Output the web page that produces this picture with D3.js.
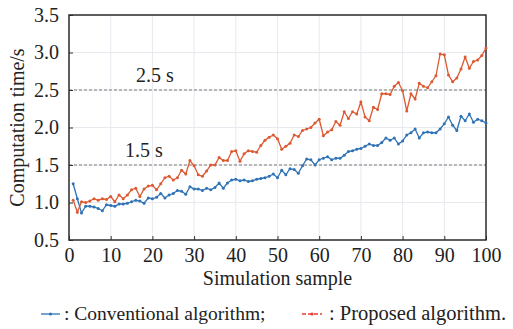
<!DOCTYPE html>
<html>
<head>
<meta charset="utf-8">
<script src="https://cdn.jsdelivr.net/npm/d3@7"></script>
<style>
  body { margin: 0; background: #fff; }
  svg text { font-family: "Liberation Serif", "Times New Roman", "DejaVu Serif", serif; fill: #222; }
</style>
</head>
<body>
<svg id="chart" width="513" height="329" font-family="Liberation Serif, serif"></svg>
<script>
// sample numbers 1..100
var samples = d3.range(1, 101);

// conventional algorithm, computation time (s)
var conventional = [
  1.25, 1.05, 0.86, 0.95, 0.95, 0.94, 0.92, 0.89, 0.97, 0.96,
  0.95, 0.98, 0.98, 0.99, 1.01, 1.03, 1.02, 0.99, 1.06, 1.05,
  1.07, 1.12, 1.06, 1.10, 1.12, 1.16, 1.15, 1.11, 1.21, 1.18,
  1.18, 1.16, 1.19, 1.17, 1.20, 1.26, 1.19, 1.26, 1.30, 1.31,
  1.29, 1.30, 1.28, 1.29, 1.31, 1.32, 1.33, 1.35, 1.38, 1.33,
  1.43, 1.37, 1.45, 1.44, 1.39, 1.49, 1.58, 1.57, 1.50, 1.57,
  1.59, 1.61, 1.57, 1.59, 1.59, 1.63, 1.68, 1.69, 1.71, 1.72,
  1.75, 1.78, 1.76, 1.76, 1.80, 1.86, 1.83, 1.86, 1.78, 1.82,
  1.90, 1.93, 1.98, 1.86, 1.93, 1.94, 1.93, 1.93, 1.98, 2.05,
  2.14, 2.03, 1.96, 2.15, 2.09, 2.18, 2.07, 2.11, 2.09, 2.06
];

// proposed algorithm, computation time (s)
var proposed = [
  1.03, 0.87, 1.01, 1.00, 1.02, 1.05, 1.03, 1.05, 1.04, 1.08,
  1.01, 1.10, 1.05, 1.10, 1.17, 1.19, 1.08, 1.18, 1.22, 1.23,
  1.17, 1.25, 1.33, 1.35, 1.30, 1.33, 1.43, 1.38, 1.56, 1.49,
  1.37, 1.35, 1.42, 1.50, 1.50, 1.60, 1.56, 1.56, 1.68, 1.69,
  1.55, 1.65, 1.69, 1.68, 1.67, 1.76, 1.83, 1.87, 1.90, 1.85,
  1.71, 1.75, 1.79, 1.90, 1.88, 1.96, 1.98, 2.00, 2.06, 2.11,
  1.89, 1.94, 1.97, 2.08, 2.03, 2.21, 2.12, 2.21, 2.18, 2.34,
  2.14, 2.09, 2.27, 2.24, 2.45, 2.45, 2.44, 2.55, 2.60, 2.49,
  2.22, 2.45, 2.38, 2.59, 2.55, 2.53, 2.61, 2.69, 2.98, 2.97,
  2.70, 2.61, 2.66, 2.78, 2.94, 2.79, 2.88, 2.90, 2.96, 3.06
];

var xTicks = [0, 10, 20, 30, 40, 50, 60, 70, 80, 90, 100];
var yTicks = [0.5, 1.0, 1.5, 2.0, 2.5, 3.0, 3.5];
var refLines = [2.5, 1.5];
var refLabels = ['2.5 s', '1.5 s'];
var seriesNames = ['Conventional algorithm;', 'Proposed algorithm.'];

var blue = '#2f72b5';
var red = '#dc5a32';
var serif = '"Liberation Serif", "Times New Roman", serif';

var svg = d3.select('#chart');
var pLeft = 69, pRight = 486, pTop = 15, pBottom = 240;

var x = d3.scaleLinear().domain([0, 100]).range([pLeft, pRight]);
var y = d3.scaleLinear().domain([0.5, 3.5]).range([pBottom, pTop]);

// grid
svg.append('g').selectAll('line').data(xTicks.slice(1, -1)).enter().append('line')
  .attr('x1', function (d) { return x(d); }).attr('x2', function (d) { return x(d); })
  .attr('y1', pTop).attr('y2', pBottom)
  .attr('stroke', '#e6e9ee').attr('stroke-width', 1);
svg.append('g').selectAll('line').data(yTicks.slice(1, -1)).enter().append('line')
  .attr('x1', pLeft).attr('x2', pRight)
  .attr('y1', function (d) { return y(d); }).attr('y2', function (d) { return y(d); })
  .attr('stroke', '#e6e9ee').attr('stroke-width', 1);

// reference lines
svg.append('g').selectAll('line').data(refLines).enter().append('line')
  .attr('x1', pLeft).attr('x2', pRight)
  .attr('y1', function (d) { return y(d); }).attr('y2', function (d) { return y(d); })
  .attr('stroke', '#7a7a7a').attr('stroke-width', 1.2).attr('stroke-dasharray', '3,2');
svg.append('g').selectAll('text').data(refLines).enter().append('text')
  .attr('x', function (d, i) { return i === 0 ? 136 : 125; })
  .attr('y', function (d) { return y(d) - 8; })
  .attr('font-size', 20).style('font-family', serif)
  .text(function (d, i) { return refLabels[i]; });

// axes
var xAxis = d3.axisBottom(x).tickValues(xTicks).tickSize(-4).tickPadding(8).tickFormat(d3.format('d'));
var yAxis = d3.axisLeft(y).tickValues(yTicks).tickSize(-4).tickPadding(10).tickFormat(d3.format('.1f'));

var gx = svg.append('g').attr('transform', 'translate(0,' + pBottom + ')').call(xAxis);
var gy = svg.append('g').attr('transform', 'translate(' + pLeft + ',0)').call(yAxis);
[gx, gy].forEach(function (g) {
  g.attr('font-family', null).attr('font-size', null);
  g.select('.domain').remove();
  g.selectAll('.tick line').attr('stroke', '#333').attr('stroke-width', 1);
  g.selectAll('.tick text').attr('font-size', 20).attr('fill', '#222')
    .style('font-family', serif);
});

// frame
svg.append('rect')
  .attr('x', pLeft).attr('y', pTop).attr('width', pRight - pLeft).attr('height', pBottom - pTop)
  .attr('fill', 'none').attr('stroke', '#2a2a2a').attr('stroke-width', 1.5);

// series
function drawSeries(values, color) {
  var pts = values.map(function (v, i) { return [samples[i], v]; });
  var line = d3.line().x(function (d) { return x(d[0]); }).y(function (d) { return y(d[1]); });
  svg.append('path').datum(pts)
    .attr('d', line).attr('fill', 'none')
    .attr('stroke', color).attr('stroke-width', 1.3);
  svg.append('g').selectAll('circle').data(pts).enter().append('circle')
    .attr('cx', function (d) { return x(d[0]); })
    .attr('cy', function (d) { return y(d[1]); })
    .attr('r', 1.5).attr('fill', color);
}
drawSeries(conventional, blue);
drawSeries(proposed, red);

// axis titles
svg.append('text')
  .attr('transform', 'translate(24,' + ((pTop + pBottom) / 2) + ') rotate(-90)')
  .attr('text-anchor', 'middle').attr('font-size', 20).style('font-family', serif)
  .text('Computation time/s');
svg.append('text')
  .attr('x', (pLeft + pRight) / 2).attr('y', 285)
  .attr('text-anchor', 'middle').attr('font-size', 20).style('font-family', serif)
  .text('Simulation sample');

// legend
var lg = svg.append('g');
lg.append('line').attr('x1', 41).attr('x2', 60).attr('y1', 314).attr('y2', 314)
  .attr('stroke', blue).attr('stroke-width', 1.3);
lg.append('circle').attr('cx', 50.5).attr('cy', 314).attr('r', 1.6).attr('fill', blue);
lg.append('text').attr('x', 64).attr('y', 320).attr('font-size', 19.5).style('font-family', serif)
  .text(': ' + seriesNames[0]);
lg.append('line').attr('x1', 302).attr('x2', 322).attr('y1', 314).attr('y2', 314)
  .attr('stroke', '#f03a32').attr('stroke-width', 1.3).attr('stroke-dasharray', '4,2');
lg.append('circle').attr('cx', 312).attr('cy', 314).attr('r', 1.6).attr('fill', '#f03a32');
lg.append('text').attr('x', 329).attr('y', 320).attr('font-size', 20.5).style('font-family', serif)
  .text(': ' + seriesNames[1]);
</script>
</body>
</html>
